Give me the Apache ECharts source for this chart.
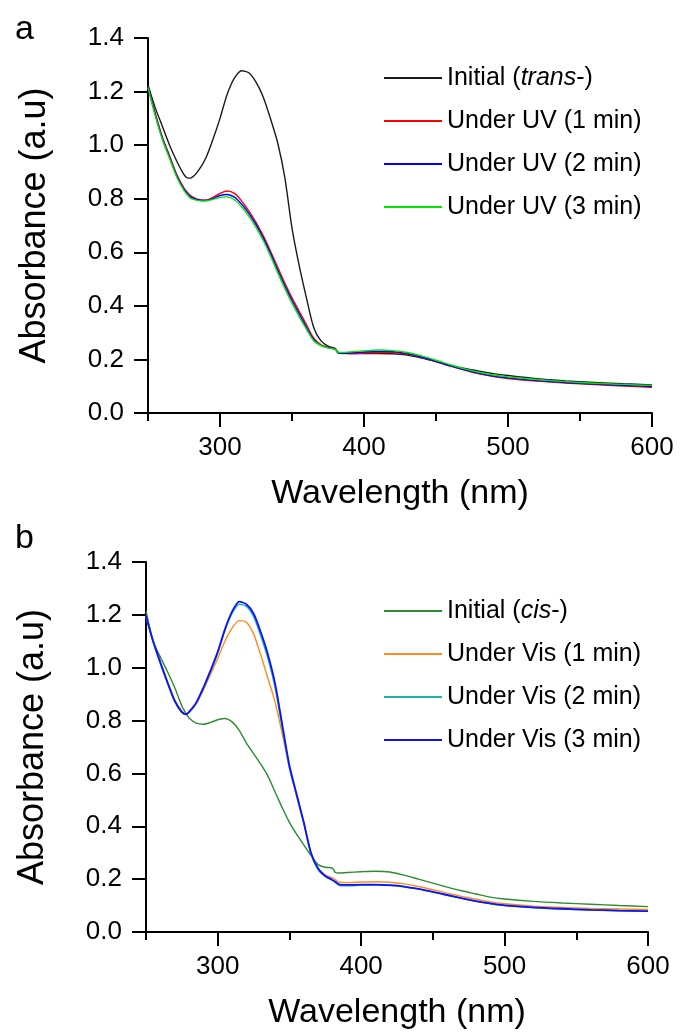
<!DOCTYPE html>
<html>
<head>
<meta charset="utf-8">
<script src="https://cdn.jsdelivr.net/npm/echarts@6/dist/echarts.min.js"></script>
<style>
html,body{margin:0;padding:0;background:#fff;}
#c{width:681px;height:1036px;}
</style>
</head>
<body>
<div id="c"></div>
<script>
// Wavelength grid (nm)
const wavelengths = [250,255,260,265,270,275,278,280,285,290,295,300,305,310,315,320,325,330,335,340,345,350,355,360,365,370,375,380,382,385,390,400,410,420,430,440,450,460,470,480,490,500,520,540,560,580,600];

// Panel a
const aNames = ['Initial (trans-)','Under UV (1 min)','Under UV (2 min)','Under UV (3 min)'];
const aInitial = [1.225,1.14,1.07,1.00,0.94,0.89,0.877,0.878,0.905,0.95,1.02,1.10,1.19,1.25,1.278,1.27,1.235,1.18,1.10,1.01,0.88,0.69,0.55,0.43,0.32,0.27,0.25,0.241,0.226,0.224,0.222,0.222,0.222,0.221,0.216,0.205,0.192,0.178,0.166,0.156,0.147,0.140,0.128,0.120,0.114,0.109,0.105];
const aUV1 = [1.22,1.12,1.03,0.96,0.89,0.84,0.82,0.81,0.797,0.795,0.805,0.82,0.829,0.82,0.792,0.755,0.712,0.662,0.605,0.545,0.485,0.43,0.38,0.33,0.28,0.255,0.245,0.238,0.224,0.222,0.222,0.224,0.226,0.226,0.22,0.208,0.192,0.175,0.16,0.146,0.136,0.129,0.119,0.112,0.106,0.101,0.096];
const aUV2 = [1.22,1.115,1.025,0.955,0.885,0.835,0.815,0.805,0.795,0.793,0.80,0.812,0.816,0.806,0.78,0.745,0.703,0.654,0.597,0.535,0.475,0.42,0.37,0.32,0.275,0.253,0.244,0.238,0.224,0.223,0.224,0.228,0.23,0.229,0.222,0.209,0.193,0.176,0.161,0.148,0.138,0.131,0.121,0.114,0.108,0.103,0.099];
const aUV3 = [1.215,1.11,1.02,0.95,0.88,0.83,0.81,0.80,0.793,0.792,0.797,0.805,0.807,0.796,0.77,0.735,0.693,0.644,0.587,0.525,0.465,0.41,0.36,0.313,0.27,0.252,0.243,0.238,0.226,0.226,0.228,0.232,0.235,0.233,0.226,0.213,0.197,0.18,0.165,0.152,0.142,0.135,0.125,0.117,0.111,0.107,0.103];

// Panel b
const bNames = ['Initial (cis-)','Under Vis (1 min)','Under Vis (2 min)','Under Vis (3 min)'];
const bInitial = [1.215,1.10,1.04,0.985,0.925,0.855,0.826,0.81,0.79,0.786,0.793,0.803,0.808,0.795,0.763,0.715,0.675,0.635,0.59,0.53,0.47,0.415,0.37,0.33,0.29,0.255,0.245,0.242,0.225,0.223,0.225,0.228,0.23,0.227,0.215,0.2,0.185,0.17,0.156,0.144,0.132,0.125,0.116,0.11,0.105,0.10,0.096];
const bVis1 = [1.197,1.10,1.02,0.945,0.878,0.835,0.826,0.83,0.862,0.915,0.975,1.035,1.1,1.15,1.178,1.172,1.128,1.048,0.96,0.87,0.75,0.62,0.515,0.415,0.30,0.24,0.215,0.205,0.198,0.188,0.187,0.189,0.19,0.188,0.182,0.172,0.16,0.147,0.135,0.124,0.114,0.107,0.098,0.093,0.089,0.087,0.085];
const bVis2 = [1.19,1.095,1.015,0.94,0.873,0.83,0.823,0.83,0.866,0.92,0.985,1.055,1.14,1.205,1.24,1.232,1.193,1.12,1.035,0.925,0.77,0.62,0.515,0.41,0.295,0.235,0.21,0.195,0.187,0.176,0.175,0.177,0.178,0.176,0.171,0.162,0.151,0.139,0.127,0.116,0.107,0.10,0.092,0.087,0.083,0.08,0.078];
const bVis3 = [1.197,1.10,1.02,0.945,0.875,0.832,0.824,0.833,0.868,0.925,0.99,1.06,1.145,1.212,1.25,1.24,1.205,1.135,1.05,0.94,0.785,0.63,0.522,0.415,0.30,0.24,0.212,0.197,0.19,0.179,0.178,0.179,0.179,0.177,0.172,0.163,0.152,0.14,0.128,0.117,0.108,0.101,0.093,0.088,0.084,0.081,0.079];

// Tick values
const xMajor = [300,400,500,600];
const xMinor = [250,350,450,550];

const aColors = ['#1a1a1a','#ff0000','#0000ff','#00e600'];
const bColors = ['#2e8b2e','#ff8c1a','#20b2aa','#1010ff'];

const FONT = 'Liberation Sans, Arial, sans-serif';

function zip(vals){ return wavelengths.map((w,i)=>[w, vals[i]]); }

const grids = [
  {left:148, right:29, top:38, height:375},
  {left:146, right:33, top:562, height:370}
];

function xAxes(gi){
  return [
    {type:'value', gridIndex:gi, min:250, max:600, interval:50, position:'bottom',
     name:'Wavelength (nm)', nameLocation:'middle', nameGap:64,
     nameTextStyle:{fontFamily:FONT, fontSize:34, color:'#000'},
     axisLine:{lineStyle:{color:'#000', width:2}},
     axisTick:{show:true, inside:false, length:14, lineStyle:{color:'#000', width:2}, customValues:xMajor},
     axisLabel:{fontFamily:FONT, fontSize:26, color:'#000', margin:22, customValues:xMajor},
     splitLine:{show:false}},
    {type:'value', gridIndex:gi, min:250, max:600, interval:50, position:'bottom', offset:0,
     axisLine:{show:false},
     axisTick:{show:true, length:8, lineStyle:{color:'#000', width:2}, customValues:xMinor},
     axisLabel:{show:false}, splitLine:{show:false}}
  ];
}
function yAxis(gi){
  return {type:'value', gridIndex:gi, min:0, max:1.4, interval:0.2,
    name:'Absorbance (a.u)', nameLocation:'middle', nameGap:95,
    nameTextStyle:{fontFamily:FONT, fontSize:36, color:'#000'},
    axisLine:{show:true, lineStyle:{color:'#000', width:2}},
    axisTick:{show:true, length:14, lineStyle:{color:'#000', width:2}},
    axisLabel:{fontFamily:FONT, fontSize:26, color:'#000', margin:24, formatter:v=>v.toFixed(1)},
    splitLine:{show:false}};
}

function mkSeries(names, arrs, colors, gi, widths){
  return names.map((n,i)=>({
    name:n, type:'line', xAxisIndex:gi*2, yAxisIndex:gi, data:zip(arrs[i]),
    showSymbol:false, symbol:'none', smooth:0.25, animation:false,
    lineStyle:{color:colors[i], width:widths[i]}, itemStyle:{color:colors[i]}
  }));
}

function legend(names, top){
  return {data:names, orient:'vertical', left:379, top:top, icon:'rect', itemWidth:58, itemHeight:2, itemGap:17,
    textStyle:{fontFamily:FONT, fontSize:25, color:'#000', lineHeight:26,
      rich:{n:{fontFamily:FONT, fontSize:25, color:'#000'}, i:{fontFamily:FONT, fontSize:25, color:'#000', fontStyle:'italic'}}},
    formatter:function(name){
      if(name==='Initial (trans-)') return '{n|Initial (}{i|trans}{n|-)}';
      if(name==='Initial (cis-)') return '{n|Initial (}{i|cis}{n|-)}';
      return '{n|'+name+'}';
    },
    selectedMode:false};
}

const chart = echarts.init(document.getElementById('c'), null, {renderer:'canvas'});
chart.setOption({
  animation:false,
  backgroundColor:'#fff',
  grid:grids,
  xAxis:[...xAxes(0), ...xAxes(1)],
  yAxis:[yAxis(0), yAxis(1)],
  legend:[legend(aNames, 60), legend(bNames, 593)],
  graphic:[
    {type:'text', left:15, top:13, style:{text:'a', font:'34px '+FONT, fill:'#000'}},
    {type:'text', left:15, top:522, style:{text:'b', font:'34px '+FONT, fill:'#000'}}
  ],
  series:[
    ...mkSeries(aNames,[aInitial,aUV1,aUV2,aUV3],aColors,0,[1.4,1.4,1.4,1.4]),
    ...mkSeries(bNames,[bInitial,bVis1,bVis2,bVis3],bColors,1,[1.4,1.4,1.4,1.8])
  ]
});
</script>
</body>
</html>
